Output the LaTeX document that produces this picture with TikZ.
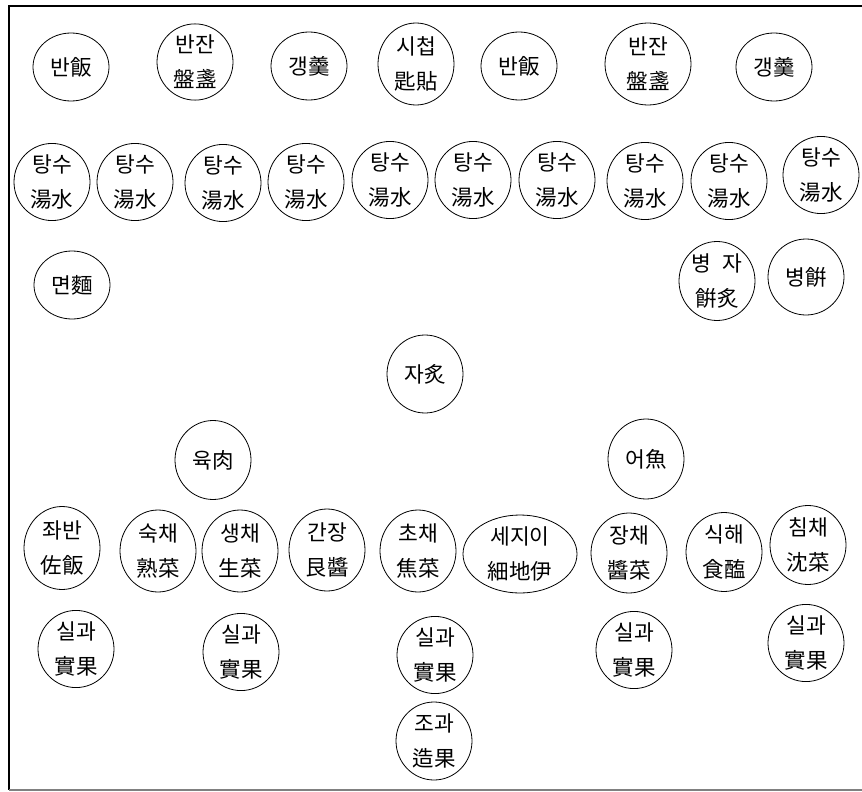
\documentclass[tikz,border=0pt]{standalone}
\usepackage{fontspec}
\newfontfamily\kr{Noto Sans CJK KR}
\usetikzlibrary{shapes.geometric}

\begin{document}
\begin{tikzpicture}[x=1pt, y=-1pt,
    dish/.style={draw, ellipse, line width=0.8pt, inner sep=0pt, minimum width=76pt, minimum height=76pt, align=center, font=\kr\fontsize{21.5}{35}\selectfont},
    low/.style={dish, minimum height=68pt},
    wide/.style={dish, minimum width=114pt, minimum height=78pt},
    frame/.style={line width=1.4pt}
    ]
    \useasboundingbox (0,0) rectangle (862,792);
    \draw[frame] (862,6) -- (9,6) -- (9,790);
    \draw[frame, gray] (9,790) -- (862,790);
    % rice, side dishes, soup
    \node [low](b1) at (71,67) {반飯};
    \node [dish](s1) at (195,62) {반잔\\盤盞};
    \node [low](g1) at (309,66) {갱羹};
    \node [dish, minimum height=82pt](c1) at (416,64) {시첩\\匙貼};
    \node [low](b2) at (519,66) {반飯};
    \node [dish, minimum width=86pt, minimum height=82pt](s2) at (648,64) {반잔\\盤盞};
    \node [low](g2) at (774,67) {갱羹};
    % tangsu row
    \foreach \i/\x/\y in {1/52/182, 2/135/182, 3/223/183, 4/306/182, 5/390/180,
        6/473/180, 7/557/180, 8/645/181, 9/729/181, 10/821/175}
        \node [dish](t\i) at (\x,\y) {탕수\\湯水};
    \node [low](m1) at (72,285) {면麵};
    \node [dish, minimum height=79pt](p1) at (717,281) {병\hspace{0.5em}자\\餠炙};
    \node [dish](p2) at (806,277) {병餠};
    \node [dish, minimum height=78pt](j1) at (425,374) {자炙};
    \node [dish, minimum height=79pt](y1) at (213,460) {육肉};
    \node [dish, minimum height=80pt](f1) at (646,459) {어魚};
    % vegetables and sauces
    \node [dish, minimum height=83pt](a1) at (62,548) {좌반\\佐飯};
    \node [dish, minimum height=82pt](v1) at (158,551) {숙채\\熟菜};
    \node [dish, minimum height=82pt](v2) at (240,551) {생채\\生菜};
    \node [dish, minimum height=82pt](v3) at (327,550) {간장\\艮醬};
    \node [dish, minimum height=82pt](v4) at (418,551) {초채\\焦菜};
    \node [wide](v5) at (520,554) {세지이\\細地伊};
    \node [dish, minimum height=80pt](v6) at (629,553) {장채\\醬菜};
    \node [dish, minimum height=79pt](v7) at (724,552) {식해\\食醢};
    \node [dish, minimum height=79pt](v8) at (808,545) {침채\\沈菜};
    % fruit
    \node [dish](k1) at (76,649) {실과\\實果};
    \node [dish](k2) at (241,652) {실과\\實果};
    \node [dish](k3) at (435,655) {실과\\實果};
    \node [dish](k4) at (634,650) {실과\\實果};
    \node [dish](k5) at (806,643) {실과\\實果};
    \node [dish, minimum height=78pt](k6) at (434,741) {조과\\造果};
\end{tikzpicture}
\end{document}
